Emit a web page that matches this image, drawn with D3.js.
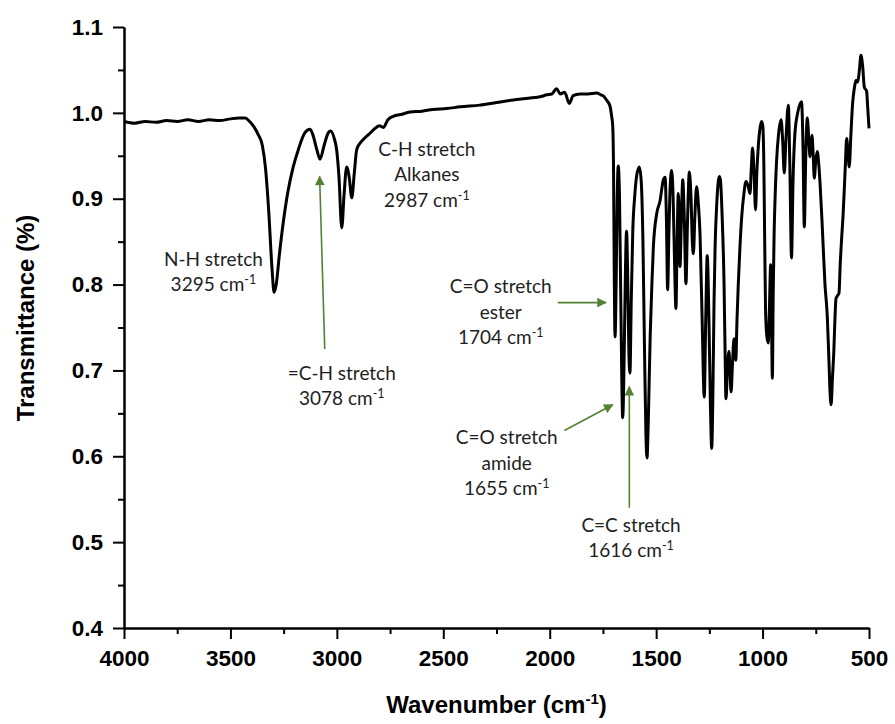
<!DOCTYPE html>
<html>
<head>
<meta charset="utf-8">
<script src="https://cdn.jsdelivr.net/npm/d3@7"></script>
<style>
  body { margin: 0; background: #fff; }
  .tick text { font-family: "Liberation Sans", Arial, sans-serif; font-weight: bold; font-size: 22.5px; fill: #000; }
  .axis path, .axis line { stroke: #000; stroke-width: 2; }
  .note { font-family: Lato, "Open Sans", sans-serif; font-size: 19px; fill: #1e1e1e; }
  .title { font-family: "Liberation Sans", Arial, sans-serif; font-weight: bold; font-size: 24px; fill: #000; }
</style>
</head>
<body>
<div id="chart"></div>
<script>
//wavenumbers (cm-1)
var wavenumbers = [
  4000, 3950, 3900, 3850, 3800, 3750, 3700, 3650, 3600, 3550, 3500, 3460, 3430, 3410, 3390, 3370, 3350, 3335, 3320, 3305,
  3295, 3285, 3270, 3252, 3230, 3205, 3180, 3150, 3126, 3112, 3095, 3079, 3060, 3040, 3029, 3012, 3001, 2990, 2977, 2966,
  2954, 2942, 2930, 2918, 2907, 2890, 2876, 2850, 2829, 2800, 2782, 2760, 2735, 2700, 2656, 2600, 2550, 2484, 2420, 2328,
  2250, 2171, 2100, 2040, 2014, 1990, 1968, 1950, 1930, 1908, 1890, 1858, 1820, 1780, 1760, 1745, 1733, 1717, 1709, 1704,
  1700, 1697, 1693, 1688, 1683, 1678, 1672, 1666, 1657, 1650, 1644, 1639, 1633, 1628, 1623, 1617, 1610, 1600, 1592, 1579,
  1570, 1562, 1555, 1548, 1543, 1537, 1528, 1520, 1513, 1497, 1482, 1466, 1458, 1452, 1446, 1440, 1434, 1427, 1420, 1413,
  1407, 1402, 1396, 1392, 1388, 1382, 1375, 1368, 1360, 1353, 1344, 1336, 1330, 1325, 1318, 1310, 1302, 1294, 1284, 1274,
  1267, 1260, 1252, 1245, 1239, 1233, 1228, 1223, 1215, 1208, 1203, 1198, 1190, 1181, 1176, 1172, 1165, 1158, 1153, 1148,
  1141, 1134, 1126, 1120, 1114, 1106, 1098, 1088, 1078, 1068, 1059, 1053, 1047, 1040, 1033, 1027, 1020, 1012, 1005, 999,
  994, 990, 986, 980, 973, 968, 962, 958, 954, 950, 946, 940, 934, 925, 913, 906, 898, 890, 879, 872,
  864, 857, 848, 835, 817, 810, 804, 797, 790, 783, 777, 772, 768, 762, 757, 750, 743, 736, 730, 720,
  707, 696, 688, 683, 678, 672, 665, 660, 655, 648, 641, 635, 628, 622, 617, 611, 605, 599, 593, 585,
  577, 568, 561, 553, 545, 538, 530, 522, 511, 507, 500
];

//transmittance values matching the wavenumbers above
var transmittance = [
  0.990, 0.988, 0.990, 0.989, 0.991, 0.990, 0.992, 0.990, 0.992, 0.991, 0.993, 0.994, 0.994, 0.990, 0.984, 0.975, 0.962, 0.935, 0.885, 0.820,
  0.791, 0.800, 0.835, 0.872, 0.908, 0.937, 0.958, 0.977, 0.981, 0.974, 0.958, 0.946, 0.962, 0.977, 0.979, 0.970, 0.957, 0.925, 0.866, 0.905,
  0.937, 0.925, 0.901, 0.930, 0.957, 0.965, 0.969, 0.975, 0.980, 0.985, 0.983, 0.992, 0.996, 0.998, 1.001, 1.002, 1.004, 1.005, 1.007, 1.009,
  1.012, 1.015, 1.017, 1.019, 1.021, 1.022, 1.028, 1.022, 1.024, 1.011, 1.020, 1.022, 1.022, 1.023, 1.021, 1.019, 1.015, 1.008, 0.996, 0.985,
  0.930, 0.820, 0.739, 0.800, 0.900, 0.938, 0.900, 0.780, 0.645, 0.720, 0.820, 0.862, 0.800, 0.720, 0.697, 0.780, 0.860, 0.905, 0.926, 0.937,
  0.920, 0.850, 0.730, 0.625, 0.598, 0.640, 0.740, 0.800, 0.844, 0.883, 0.897, 0.922, 0.925, 0.880, 0.794, 0.860, 0.915, 0.933, 0.900, 0.820,
  0.772, 0.840, 0.906, 0.880, 0.821, 0.870, 0.922, 0.880, 0.801, 0.870, 0.931, 0.900, 0.850, 0.836, 0.880, 0.914, 0.895, 0.860, 0.760, 0.669,
  0.760, 0.834, 0.760, 0.660, 0.609, 0.680, 0.780, 0.844, 0.895, 0.920, 0.926, 0.922, 0.880, 0.801, 0.720, 0.667, 0.700, 0.722, 0.700, 0.675,
  0.710, 0.737, 0.712, 0.760, 0.801, 0.845, 0.879, 0.905, 0.920, 0.915, 0.906, 0.935, 0.959, 0.930, 0.887, 0.930, 0.961, 0.982, 0.990, 0.985,
  0.940, 0.850, 0.770, 0.740, 0.732, 0.770, 0.823, 0.760, 0.691, 0.790, 0.856, 0.910, 0.945, 0.975, 0.992, 0.970, 0.930, 0.970, 1.009, 0.940,
  0.831, 0.920, 0.976, 1.000, 1.013, 0.960, 0.867, 0.950, 0.994, 0.970, 0.949, 0.965, 0.974, 0.950, 0.924, 0.945, 0.955, 0.940, 0.918, 0.870,
  0.801, 0.763, 0.710, 0.675, 0.660, 0.690, 0.724, 0.760, 0.784, 0.787, 0.790, 0.825, 0.856, 0.880, 0.906, 0.940, 0.970, 0.955, 0.937, 0.975,
  1.011, 1.030, 1.038, 1.036, 1.050, 1.067, 1.055, 1.030, 1.025, 1.010, 0.982
];

//axis ticks
var xTicks = [4000, 3500, 3000, 2500, 2000, 1500, 1000, 500];
var xMinorTicks = [3750, 3250, 2750, 2250, 1750, 1250, 750];
var yTicks = [0.4, 0.5, 0.6, 0.7, 0.8, 0.9, 1.0, 1.1];
var yMinorTicks = [0.45, 0.55, 0.65, 0.75, 0.85, 0.95, 1.05];

//peak annotations: text anchor (wavenumber, transmittance of first line) and text lines
var noteX = [3580, 2577, 2977, 2230, 2202, 1618];
var noteY = [0.822, 0.950, 0.689, 0.790, 0.614, 0.512];
var noteLines = [
  ["N-H stretch", "3295"],
  ["C-H stretch", "Alkanes", "2987"],
  ["=C-H stretch", "3078"],
  ["C=O stretch", "ester", "1704"],
  ["C=O stretch", "amide", "1655"],
  ["C=C stretch", "1616"]
];

//arrows: start and tip in data units
var arrowFrom = [[3057, 0.725], [1962, 0.779], [1931, 0.630], [1626, 0.540]];
var arrowTo = [[3081, 0.926], [1736, 0.779], [1704, 0.660], [1626, 0.681]];

//svg size and plot box
var svgWidth = 895;
var svgHeight = 724;
var plot = { left: 124, right: 869, top: 27, bottom: 628 };
var green = "#548235";

const svg = d3.select("#chart")
  .append("svg")
  .attr("width", svgWidth)
  .attr("height", svgHeight);

//scales (x reversed like an IR spectrum)
var x = d3.scaleLinear().domain([4000, 500]).range([plot.left, plot.right]);
var y = d3.scaleLinear().domain([0.4, 1.1]).range([plot.bottom, plot.top]);

//minor ticks first, under the main axes
svg.append("g")
  .attr("class", "axis")
  .attr("transform", `translate(0, ${plot.bottom})`)
  .call(d3.axisBottom(x).tickValues(xMinorTicks).tickSize(6).tickSizeOuter(0).tickFormat(""));

svg.append("g")
  .attr("class", "axis")
  .attr("transform", `translate(${plot.left}, 0)`)
  .call(d3.axisLeft(y).tickValues(yMinorTicks).tickSize(6).tickSizeOuter(0).tickFormat(""));

//main axes
svg.append("g")
  .attr("class", "axis")
  .attr("transform", `translate(0, ${plot.bottom})`)
  .call(d3.axisBottom(x).tickValues(xTicks).tickSize(11).tickSizeOuter(0).tickPadding(11).tickFormat(d3.format("d")));

svg.append("g")
  .attr("class", "axis")
  .attr("transform", `translate(${plot.left}, 0)`)
  .call(d3.axisLeft(y).tickValues(yTicks).tickSize(11).tickSizeOuter(0).tickPadding(10).tickFormat(d3.format(".1f")));

//spectrum line
var points = wavenumbers.map((w, i) => [w, transmittance[i]]);
var line = d3.line()
  .x(d => x(d[0]))
  .y(d => y(d[1]))
  .curve(d3.curveMonotoneX);

svg.append("path")
  .datum(points)
  .attr("d", line)
  .attr("fill", "none")
  .attr("stroke", "#000")
  .attr("stroke-width", 3)
  .attr("stroke-linejoin", "round");

//arrow head marker
svg.append("defs").append("marker")
  .attr("id", "head")
  .attr("viewBox", "0 0 10 10")
  .attr("refX", 9)
  .attr("refY", 5)
  .attr("markerWidth", 7)
  .attr("markerHeight", 6)
  .attr("markerUnits", "strokeWidth")
  .attr("orient", "auto")
  .append("path")
  .attr("d", "M0,0 L10,5 L0,10 Z")
  .attr("fill", green);

arrowFrom.forEach(function(a, i) {
  svg.append("line")
    .attr("x1", x(a[0]))
    .attr("y1", y(a[1]))
    .attr("x2", x(arrowTo[i][0]))
    .attr("y2", y(arrowTo[i][1]))
    .attr("stroke", green)
    .attr("stroke-width", 1.6)
    .attr("marker-end", "url(#head)");
});

//annotation texts, last line gets "cm-1" with superscript
noteLines.forEach(function(lines, i) {
  var t = svg.append("text")
    .attr("class", "note")
    .attr("text-anchor", "middle")
    .attr("x", x(noteX[i]))
    .attr("y", y(noteY[i]));

  lines.forEach(function(s, j) {
    var last = j === lines.length - 1;
    var row = t.append("tspan")
      .attr("x", x(noteX[i]))
      .attr("dy", j === 0 ? 0 : 25.5);
    if (last) {
      row.text(s + " cm");
      t.append("tspan").attr("dy", -7).attr("font-size", "12.5px").text("-1");
      t.append("tspan").attr("dy", 7).text("");
    } else {
      row.text(s);
    }
  });
});

//axis titles
svg.append("text")
  .attr("class", "title")
  .attr("font-size", "25px")
  .attr("text-anchor", "middle")
  .attr("transform", `translate(34, 318) rotate(-90)`)
  .text("Transmittance (%)");

var xTitle = svg.append("text")
  .attr("class", "title")
  .attr("text-anchor", "middle")
  .attr("x", (plot.left + plot.right) / 2)
  .attr("y", 713);
xTitle.append("tspan").text("Wavenumber (cm");
xTitle.append("tspan").attr("dy", -9).attr("font-size", "15px").text("-1");
xTitle.append("tspan").attr("dy", 9).text(")");
</script>
</body>
</html>
